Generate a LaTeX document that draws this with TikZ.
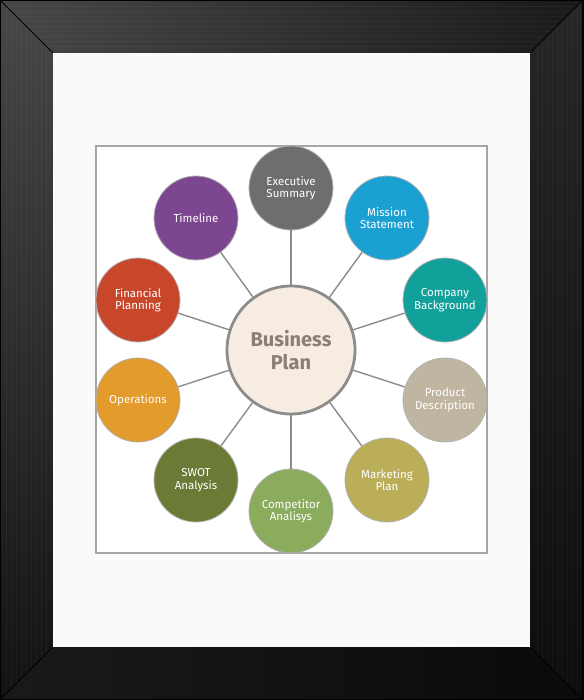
\documentclass[tikz,border=0pt]{standalone}
\usepackage{fontspec}
\setmainfont{Fira Sans}
\usepackage{xcolor}
\usepackage{tikz}
\usetikzlibrary{calc}

\definecolor{execgray}{HTML}{6E6E6E}
\definecolor{missionblue}{HTML}{1BA0D2}
\definecolor{companyteal}{HTML}{12A09A}
\definecolor{producttan}{HTML}{C0B5A0}
\definecolor{marketolive}{HTML}{BAAE58}
\definecolor{compgreen}{HTML}{8BAB5D}
\definecolor{swotgreen}{HTML}{6B7B35}
\definecolor{opsorange}{HTML}{E39B2B}
\definecolor{finred}{HTML}{C8472B}
\definecolor{timepurple}{HTML}{7D4690}
\definecolor{planfill}{HTML}{F6ECE1}
\definecolor{plantext}{HTML}{8A7E78}
\definecolor{linkgray}{HTML}{8C8C8C}

\tikzset{
  topic/.style={circle,minimum size=84pt,inner sep=0pt,draw=black!30,line width=0.8pt,
    text=white,align=center,font=\fontsize{11.5}{12.5}\selectfont},
  link/.style={draw=linkgray,line width=1.4pt}
}

\begin{document}
\begin{tikzpicture}[x=1pt,y=-1pt]
\useasboundingbox (0,0) rectangle (583,700);
%frame
\shade[left color=black!72,right color=black!90] (0,0) -- (583,0) -- (530,53) -- (53,53) -- cycle;
\shade[top color=black!72,bottom color=black!93] (0,0) -- (53,53) -- (53,647) -- (0,700) -- cycle;
\shade[top color=black!85,bottom color=black!95] (583,0) -- (583,700) -- (530,647) -- (530,53) -- cycle;
\shade[left color=black!90,right color=black!96] (0,700) -- (53,647) -- (530,647) -- (583,700) -- cycle;
%grain
\foreach \y in {6,11,...,50}
\draw[white,opacity=0.04] (\y,\y) -- (583-\y,\y);
\foreach \x in {6,11,...,50}
\draw[white,opacity=0.04] (\x,\x) -- (\x,700-\x) (583-\x,\x) -- (583-\x,700-\x);
\draw[black,line width=0.8pt] (0,0) -- (53,53) (583,0) -- (530,53) (0,700) -- (53,647) (583,700) -- (530,647);
\draw[black,line width=2pt] (0,0) rectangle (583,700);
%mat
\fill[black!2] (53,53) rectangle (530,647);
\draw[black!35,line width=1.8pt,fill=white] (96,146) rectangle (487,553);

%centre
\node[circle,minimum size=128pt,inner sep=0pt,fill=planfill,draw=linkgray,line width=2.8pt,
  text=plantext,align=center,font=\fontsize{20}{23}\selectfont\bfseries] (plan) at (291,350) {Business\\Plan};

%topics
\node[topic,fill=execgray] (exec) at (291,188) {Executive\\Summary};
\node[topic,fill=missionblue] (mission) at (387,218) {Mission\\Statement};
\node[topic,fill=companyteal] (company) at (445,300) {Company\\Background};
\node[topic,fill=producttan] (product) at (445,400) {Product\\Description};
\node[topic,fill=marketolive] (market) at (387,480) {Marketing\\Plan};
\node[topic,fill=compgreen] (comp) at (291,511) {Competitor\\Analisys};
\node[topic,fill=swotgreen] (swot) at (196,480) {SWOT\\Analysis};
\node[topic,fill=opsorange] (ops) at (138,400) {Operations};
\node[topic,fill=finred] (fin) at (138,300) {Financial\\Planning};
\node[topic,fill=timepurple] (time) at (196,218) {Timeline};

\foreach \t in {exec,mission,company,product,market,comp,swot,ops,fin,time}
\draw[link] (plan) -- (\t);
\end{tikzpicture}
\end{document}
